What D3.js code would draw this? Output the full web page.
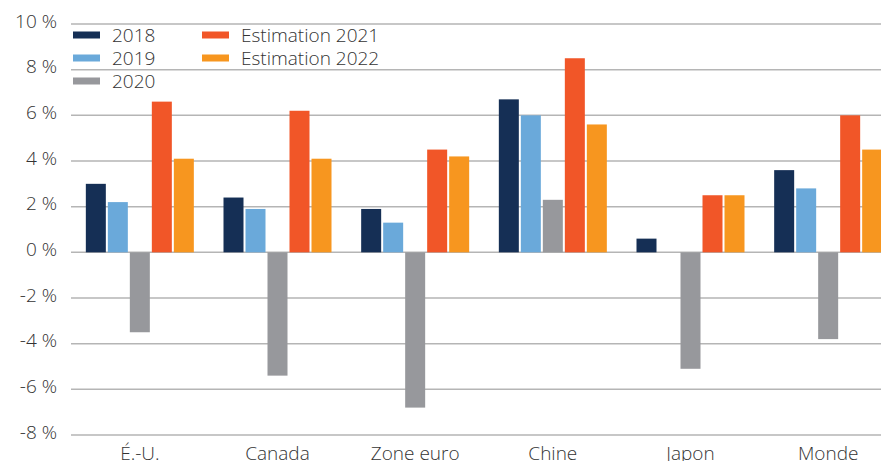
<!DOCTYPE html>
<html lang="fr">
<head>
<meta charset="utf-8">
<title>Croissance du PIB</title>
<style>
  html, body { margin: 0; padding: 0; background: #fff; }
  svg { display: block; }
  text { font-family: "Open Sans", sans-serif; font-weight: 300; fill: #333; }
</style>
</head>
<body>
<script src="https://cdn.jsdelivr.net/npm/d3@7"></script>
<script>
// data
var categories = ["É.-U.", "Canada", "Zone euro", "Chine", "Japon", "Monde"];
var seriesNames = ["2018", "2019", "2020", "Estimation 2021", "Estimation 2022"];
var v2018 = [3.0, 2.4, 1.9, 6.7, 0.6, 3.6];
var v2019 = [2.2, 1.9, 1.3, 6.0, 0.0, 2.8];
var v2020 = [-3.5, -5.4, -6.8, 2.3, -5.1, -3.8];
var v2021 = [6.6, 6.2, 4.5, 8.5, 2.5, 6.0];
var v2022 = [4.1, 4.1, 4.2, 5.6, 2.5, 4.5];
var yTicks = [-8, -6, -4, -2, 0, 2, 4, 6, 8, 10];
var colors = ["#152f55", "#6aa9da", "#97989c", "#f15628", "#f7961f"];

var seriesValues = [v2018, v2019, v2020, v2021, v2022];

var w = 881, h = 461;
var svg = d3.select("body").append("svg").attr("width", w).attr("height", h);

var x0 = d3.scaleBand().domain(categories).range([71, 897]).padding(0);
var groupW = 108;
var x1 = d3.scaleBand().domain(seriesNames).range([0, groupW]).paddingInner(2 / 22).paddingOuter(0);
var y = d3.scaleLinear().domain([-8, 10]).range([435, 24]);

// grid
svg.append("g").selectAll("line").data(yTicks).enter().append("line")
  .attr("x1", 71).attr("x2", w)
  .attr("y1", function (d) { return y(d); }).attr("y2", function (d) { return y(d); })
  .attr("stroke", "#b5b5b5").attr("stroke-width", 1.5);

// y labels
svg.append("g").selectAll("text").data(yTicks).enter().append("text")
  .attr("x", 57).attr("y", function (d) { return y(d); })
  .attr("dy", "0.2em")
  .attr("text-anchor", "end")
  .style("font-size", "19px")
  .text(function (d) { return d + "\u00a0%"; });

// bars
var rows = [];
seriesValues.forEach(function (vals, si) {
  vals.forEach(function (v, ci) {
    rows.push({ cat: categories[ci], s: seriesNames[si], v: v, color: colors[si] });
  });
});

svg.append("g").selectAll("rect").data(rows).enter().append("rect")
  .attr("x", function (d) { return x0(d.cat) + (x0.bandwidth() - groupW) / 2 + x1(d.s); })
  .attr("width", x1.bandwidth())
  .attr("y", function (d) { return y(Math.max(0, d.v)); })
  .attr("height", function (d) { return Math.abs(y(d.v) - y(0)); })
  .attr("fill", function (d) { return d.color; });

// x labels
svg.append("g").selectAll("text").data(categories).enter().append("text")
  .attr("x", function (d) { return x0(d) + x0.bandwidth() / 2; })
  .attr("y", 460)
  .attr("text-anchor", "middle")
  .style("font-size", "19px")
  .text(function (d) { return d; });

// legend
var legendPos = [[73, 35], [73, 58], [73, 81], [202, 35], [202, 58]];
var leg = svg.append("g").selectAll("g").data(seriesNames).enter().append("g")
  .attr("transform", function (d, i) { return "translate(" + legendPos[i][0] + "," + legendPos[i][1] + ")"; });
leg.append("rect").attr("x", 0).attr("y", -3.5).attr("width", 27).attr("height", 7)
  .attr("fill", function (d, i) { return colors[i]; });
leg.append("text").attr("x", 39).attr("y", 0).attr("dy", "0.35em")
  .style("font-size", "19px")
  .text(function (d) { return d; });
</script>
</body>
</html>
